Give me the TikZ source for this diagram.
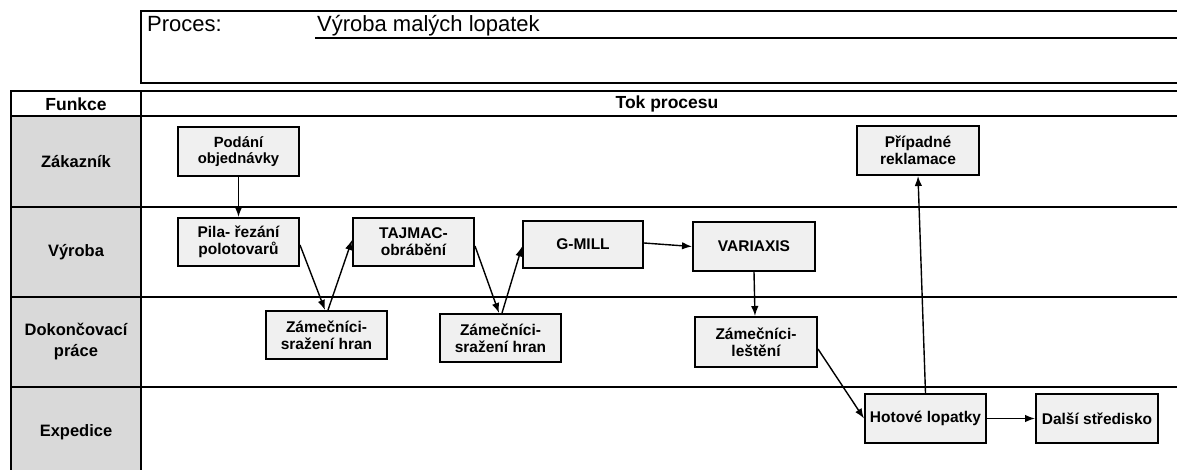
\documentclass[tikz,border=0pt]{standalone}
\usepackage{fontspec}
\setmainfont{Liberation Sans}
\usetikzlibrary{arrows.meta,calc}

\definecolor{lanegrey}{HTML}{D9D9D9}
\definecolor{boxgrey}{HTML}{F0F0F0}

\tikzset{
  frameline/.style={line width=2.2pt, draw=black},
  stepbox/.style={draw=black, fill=boxgrey, line width=2pt, inner sep=0pt,
    align=center, font=\bfseries\fontsize{15.5}{17}\selectfont},
  lanelabel/.style={align=center, inner sep=0pt, font=\bfseries\fontsize{16.5}{21}\selectfont},
  headlabel/.style={inner sep=0pt, font=\bfseries\fontsize{17.5}{20}\selectfont},
  flow/.style={line width=1.4pt, -{Latex[length=10pt,width=7.5pt]}},
}

\begin{document}
\begin{tikzpicture}[x=1pt, y=-1pt]
  \useasboundingbox (0,0) rectangle (1177,470);
  \clip (0,0) rectangle (1177,470);

  % process header
  \draw[frameline] (1200,11) -- (141,11) -- (141,83) -- (1200,83);
  \draw[line width=1.8pt] (315,38) -- (1200,38);
  \node[anchor=base west, inner sep=0pt, font=\fontsize{22}{26}\selectfont] (proclabel) at (147,32) {Proces:};
  \node[anchor=base west, inner sep=0pt, font=\fontsize{22}{26}\selectfont] (proctitle) at (317,32) {Výroba malých lopatek};

  % swimlane table
  \fill[lanegrey] (11,116) rectangle (141,480);
  \draw[frameline] (11,480) -- (11,91) -- (1200,91);
  \draw[frameline] (141,91) -- (141,480);
  \foreach \yy in {116,207,297,387}
    \draw[frameline] (11,\yy) -- (1200,\yy);

  \node[headlabel] (funkce) at (76,104) {Funkce};
  \node[headlabel] (tok) at (667,104) {Tok procesu};

  \node[lanelabel] (lzak) at (76,162) {Zákazník};
  \node[lanelabel] (lvyr) at (76,252) {Výroba};
  \node[lanelabel] (ldok) at (76,342) {Dokončovací\\práce};
  \node[lanelabel] (lexp) at (76,432) {Expedice};

  % process steps
  \node[stepbox, minimum width=121pt, minimum height=49pt, font=\bfseries\fontsize{14.8}{16.5}\selectfont] (podani) at (238.5,151.5) {Podání\\objednávky};
  \node[stepbox, minimum width=121pt, minimum height=48pt] (pila) at (238.5,242) {Pila- řezání\\polotovarů};
  \node[stepbox, minimum width=121pt, minimum height=48pt] (tajmac) at (413.5,242) {TAJMAC-\\obrábění};
  \node[stepbox, minimum width=120pt, minimum height=47pt] (gmill) at (583,244.5) {G-MILL};
  \node[stepbox, minimum width=122pt, minimum height=49pt] (variaxis) at (754,246.5) {VARIAXIS};
  \node[stepbox, minimum width=121pt, minimum height=48pt] (zam1) at (326.5,335) {Zámečníci-\\sražení hran};
  \node[stepbox, minimum width=121pt, minimum height=48pt] (zam2) at (500.5,338) {Zámečníci-\\sražení hran};
  \node[stepbox, minimum width=122pt, minimum height=50pt] (zamlest) at (756,342) {Zámečníci-\\leštění};
  \node[stepbox, minimum width=122pt, minimum height=49pt] (reklamace) at (918,150.5) {Případné\\reklamace};
  \node[stepbox, minimum width=121pt, minimum height=49pt] (hotove) at (925.5,418.5) {Hotové lopatky};
  \node[stepbox, minimum width=122pt, minimum height=49pt] (dalsi) at (1097,418.5) {Další středisko};

  % flow connectors
  \draw[flow] (podani.south) -- (pila.north);
  \draw[flow] ($(pila.east)+(0,3)$) -- ($(zam1.north)+(-1.5,0)$);
  \draw[flow] ($(zam1.north)+(1.5,0)$) -- ($(tajmac.west)+(0,-2)$);
  \draw[flow] ($(tajmac.east)+(0,4)$) -- ($(zam2.north)+(-1.5,0)$);
  \draw[flow] ($(zam2.north)+(1.5,0)$) -- ($(gmill.west)+(0,2)$);
  \draw[flow] ($(gmill.east)+(0,-1.5)$) -- (variaxis.west);
  \draw[flow] (variaxis.south) -- ($(zamlest.north)+(-1,0)$);
  \draw[flow] ($(zamlest.east)+(0,7)$) -- (hotove.west);
  \draw[flow] (hotove.north) -- (reklamace.south);
  \draw[flow] (hotove.east) -- (dalsi.west);
\end{tikzpicture}
\end{document}
